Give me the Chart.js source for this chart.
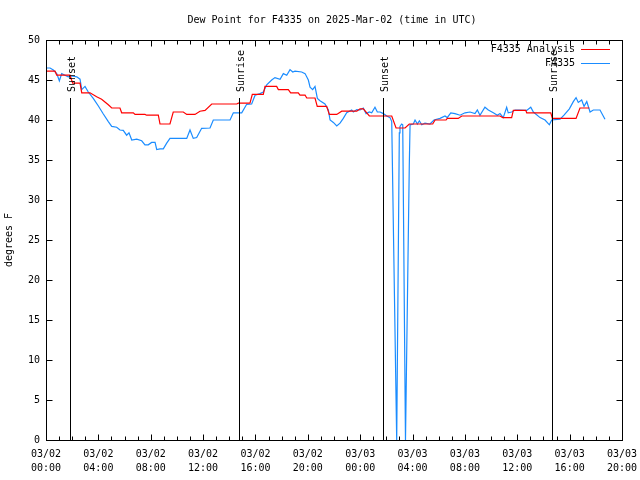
<!DOCTYPE html>
<html>
<head>
<meta charset="utf-8">
<script src="https://cdn.jsdelivr.net/npm/chart.js"></script>
<style>
  html, body { margin: 0; padding: 0; background: #fff; }
  #wrap { width: 640px; height: 480px; }
</style>
</head>
<body>
<div id="wrap"><canvas id="dewpoint-chart" width="640" height="480"></canvas></div>
<script>
// times are hours since 03/02 00:00 UTC
const obsHours = [0.00,0.31,0.56,0.82,1.02,1.20,1.45,1.70,1.96,2.35,
  2.60,2.73,2.98,3.23,3.61,4.00,4.38,4.76,5.02,5.40,
  5.65,5.90,6.16,6.34,6.55,6.93,7.31,7.56,7.81,8.07,
  8.33,8.46,8.71,8.96,9.22,9.47,10.11,10.75,11.00,11.25,
  11.51,11.89,12.53,12.78,13.42,14.06,14.31,14.95,15.33,15.71,
  15.97,16.35,16.60,16.86,17.24,17.49,17.88,18.13,18.39,18.64,
  18.85,19.02,19.53,19.79,20.04,20.17,20.37,20.55,20.73,20.93,
  21.31,21.57,21.70,21.95,22.21,22.46,22.71,22.97,23.35,23.48,
  23.74,23.99,24.24,24.45,24.70,24.88,25.13,25.31,25.52,25.77,
  26.03,26.28,26.41,26.79,26.99,27.04,27.17,27.25,27.46,27.75,
  27.81,28.06,28.19,28.37,28.52,28.70,28.95,29.33,29.64,30.10,
  30.48,30.65,30.92,31.24,31.63,32.01,32.39,32.77,32.95,33.15,
  33.53,33.79,34.17,34.48,34.68,34.93,35.19,35.31,35.57,35.83,
  36.21,36.72,37.03,37.23,37.74,38.12,38.45,38.63,39.27,39.57,
  39.98,40.28,40.49,40.66,40.92,41.10,41.31,41.56,41.81,42.32,
  42.70];
const obsValues = [46.5,46.5,46.25,45.8,44.9,45.8,45.6,45.4,45.5,45.4,
  45.1,43.8,44.2,43.5,42.7,41.75,40.75,39.8,39.2,39.1,
  38.75,38.7,38.1,38.4,37.5,37.6,37.4,36.9,36.9,37.2,
  37.2,36.3,36.4,36.4,37.1,37.7,37.7,37.7,38.75,37.7,
  37.8,38.96,39.0,40.0,40.0,40.0,40.9,40.9,41.96,42.0,
  43.1,43.3,43.5,44.4,45.0,45.3,45.1,45.8,45.6,46.3,
  46.0,46.1,46.0,45.8,45.0,44.1,43.8,44.2,42.7,42.4,
  42.0,41.25,40.0,39.7,39.25,39.6,40.2,40.9,41.25,41.0,
  41.3,41.25,41.5,40.8,41.0,40.9,41.6,41.0,41.0,40.8,
  40.5,40.3,39.8,0,38.4,39.2,39.5,39.4,0,34.2,
  39.4,39.5,40.0,39.5,39.9,39.4,39.6,39.5,40.0,40.2,
  40.5,40.3,40.9,40.8,40.6,40.9,41.0,40.8,41.25,40.6,
  41.6,41.25,40.9,40.6,40.8,40.3,41.6,40.9,41.0,41.25,
  41.25,41.2,41.6,41.0,40.3,40.0,39.4,40.0,40.1,40.6,
  41.4,42.3,42.8,42.2,42.5,41.7,42.3,41.0,41.25,41.25,
  40.1];

const anaHours = [0,0.69,0.82,1.83,2.04,2.60,2.73,3.36,3.87,4.25,
  4.76,5.02,5.65,5.78,6.67,6.80,7.56,7.69,8.58,8.71,
  9.47,9.72,10.49,10.75,11.38,11.76,12.15,12.66,14.57,14.69,
  15.58,15.76,16.60,16.73,17.62,17.75,18.51,18.69,19.27,19.40,
  19.79,19.92,20.55,20.72,21.44,21.64,22.21,22.59,23.74,23.99,
  24.24,24.70,26.41,26.74,27.43,27.75,29.54,29.72,30.56,30.65,
  31.49,31.76,34.68,34.89,35.57,35.70,36.65,36.72,38.56,38.68,
  40.49,40.79,41.50];
const anaValues = [46.1,46.1,45.6,45.6,44.6,44.6,43.4,43.4,42.9,42.6,
  41.9,41.5,41.5,40.9,40.9,40.7,40.7,40.6,40.6,39.5,
  39.5,41.0,41.0,40.7,40.7,41.1,41.2,42.0,42.0,42.1,
  42.1,43.2,43.2,44.2,44.2,43.8,43.8,43.4,43.4,43.1,
  43.1,42.75,42.75,41.7,41.7,40.7,40.7,41.1,41.1,41.4,
  41.4,40.5,40.5,39.0,39.0,39.5,39.5,40.0,40.0,40.2,
  40.2,40.5,40.5,40.3,40.3,41.2,41.2,40.9,40.9,40.2,
  40.2,41.5,41.5];

const sunHours = [1.83, 14.74, 25.74, 38.65];
const sunLabels = ['Sunset', 'Sunrise', 'Sunset', 'Sunrise'];
const sunLineTop = 42.75;

const xTickDates = ['03/02','03/02','03/02','03/02','03/02','03/02',
  '03/03','03/03','03/03','03/03','03/03','03/03'];
const xTickTimes = ['00:00','04:00','08:00','12:00','16:00','20:00',
  '00:00','04:00','08:00','12:00','16:00','20:00'];

const MONO = 'DejaVu Sans Mono';

function toPoints(xs, ys) {
  return xs.map((x, i) => ({ x: x, y: ys[i] }));
}

// gnuplot-like frame, inward ticks, sun markers, title and key
const gnuplotLook = {
  id: 'gnuplotLook',
  afterDatasetsDraw(chart) {
    const ctx = chart.ctx;
    const xs = chart.scales.x, ys = chart.scales.y;
    const a = chart.chartArea;
    const L = Math.round(a.left) + 0.5, R = Math.round(a.right) + 0.5;
    const T = Math.round(a.top) + 0.5, B = Math.round(a.bottom) + 0.5;
    ctx.save();
    ctx.strokeStyle = '#000';
    ctx.lineWidth = 1;

    // sunrise / sunset lines
    sunHours.forEach((h) => {
      const px = Math.round(xs.getPixelForValue(h)) + 0.5;
      ctx.beginPath();
      ctx.moveTo(px, ys.getPixelForValue(0));
      ctx.lineTo(px, Math.round(ys.getPixelForValue(sunLineTop)));
      ctx.stroke();
    });

    // frame
    ctx.strokeRect(L, T, R - L, B - T);

    // x ticks every hour, mirrored at top
    ctx.beginPath();
    for (let h = xs.min; h <= xs.max; h += 1) {
      const px = Math.round(xs.getPixelForValue(h)) + 0.5;
      const len = (h % 4 === 0) ? 6 : 4;
      ctx.moveTo(px, B); ctx.lineTo(px, B - len);
      ctx.moveTo(px, T); ctx.lineTo(px, T + len);
    }
    // y ticks, mirrored at right
    for (let v = ys.min; v <= ys.max; v += 5) {
      const py = Math.round(ys.getPixelForValue(v)) + 0.5;
      ctx.moveTo(L, py); ctx.lineTo(L + 6, py);
      ctx.moveTo(R, py); ctx.lineTo(R - 6, py);
    }
    ctx.stroke();

    ctx.fillStyle = '#000';
    ctx.font = '10px "' + MONO + '"';

    // sun labels, rotated
    sunHours.forEach((h, i) => {
      const px = Math.round(xs.getPixelForValue(h));
      ctx.save();
      ctx.translate(px + 5, 92);
      ctx.rotate(-Math.PI / 2);
      ctx.textAlign = 'left';
      ctx.textBaseline = 'alphabetic';
      ctx.fillText(sunLabels[i], 0, 0);
      ctx.restore();
    });

    // title
    ctx.textAlign = 'center';
    ctx.textBaseline = 'middle';
    ctx.fillText('Dew Point for F4335 on 2025-Mar-02 (time in UTC)', 332, 20);

    // key
    ctx.textAlign = 'right';
    chart.data.datasets.forEach((ds, i) => {
      const y = 49 + i * 14;
      ctx.fillStyle = '#000';
      ctx.fillText(ds.label, 575, y);
      ctx.strokeStyle = ds.borderColor;
      ctx.beginPath();
      ctx.moveTo(581, y + 0.5);
      ctx.lineTo(610, y + 0.5);
      ctx.stroke();
    });
    ctx.restore();
  }
};

new Chart(document.getElementById('dewpoint-chart'), {
  type: 'line',
  data: {
    datasets: [
      {
        label: 'F4335 Analysis',
        data: toPoints(anaHours, anaValues),
        borderColor: '#ff0000',
        borderWidth: 1.2,
        pointRadius: 0,
        tension: 0,
        fill: false
      },
      {
        label: 'F4335',
        data: toPoints(obsHours, obsValues),
        borderColor: '#1a8cff',
        borderWidth: 1.2,
        pointRadius: 0,
        tension: 0,
        fill: false
      }
    ]
  },
  options: {
    responsive: false,
    animation: false,
    devicePixelRatio: 1,
    layout: { padding: { left: 0, top: 40, right: 18, bottom: 0 } },
    plugins: {
      legend: { display: false },
      title: { display: false },
      tooltip: { enabled: false }
    },
    scales: {
      x: {
        type: 'linear',
        min: 0,
        max: 44,
        afterFit: (scale) => {
          scale.height = 40;
          scale.paddingLeft = 0;
          scale.paddingRight = 0;
        },
        grid: { display: false, drawTicks: false },
        border: { display: false },
        ticks: {
          stepSize: 4,
          autoSkip: false,
          maxRotation: 0,
          padding: 8,
          color: '#000',
          font: { family: MONO, size: 10, lineHeight: 1.33 },
          callback: (v) => {
            const i = Math.round(v / 4);
            return [xTickDates[i], xTickTimes[i]];
          }
        }
      },
      y: {
        min: 0,
        max: 50,
        afterFit: (scale) => {
          scale.width = 46;
          scale.paddingTop = 0;
          scale.paddingBottom = 0;
        },
        grid: { display: false, drawTicks: false },
        border: { display: false },
        ticks: {
          stepSize: 5,
          padding: 6,
          color: '#000',
          font: { family: MONO, size: 10 }
        },
        title: {
          display: true,
          text: 'degrees F',
          color: '#000',
          font: { family: MONO, size: 10 },
          padding: { top: 3, bottom: 0 }
        }
      }
    }
  },
  plugins: [gnuplotLook]
});
</script>
</body>
</html>
